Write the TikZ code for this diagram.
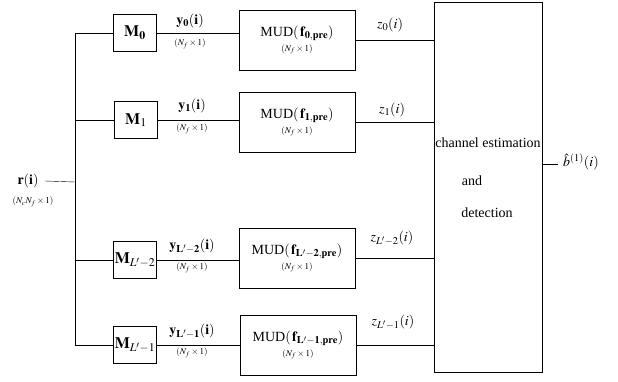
\documentclass[tikz,border=0pt]{standalone}
\usepackage{mathptmx}
\usepackage{fontspec}
\setmainfont{Liberation Serif}
\begin{document}
\begin{tikzpicture}[x=1pt,y=-1pt,
  blk/.style={draw,thick,minimum width=43pt,minimum height=37pt,inner sep=0pt,font=\fontsize{16}{18}\selectfont},
  mud/.style={draw,thick,minimum width=116pt,minimum height=60pt,inner sep=0pt,align=center},
  big/.style={font=\fontsize{14}{16}\selectfont},
  dim/.style={font=\fontsize{9}{10}\selectfont}]
  \useasboundingbox (0,0) rectangle (618,381);
  % bus
  \coordinate (top) at (75,33);
  \coordinate (bot) at (75,345);
  \coordinate (tap) at (75,182);
  \node[big] (r) at (28,181) {$\mathbf{r}(\mathbf{i})$};
  \node[dim] (rdim) at (33,202) {$(N_c N_f\times 1)$};
  \draw (r.east) ++(3,0) -- (tap);
  \draw (top) -- (bot);
  % M blocks
  \node[blk] (M0) at (135,33) {$\mathbf{M}_{\mathbf{0}}$};
  \node[blk] (M1) at (136,120) {$\mathbf{M}_{1}$};
  \node[blk] (M2) at (135,260) {$\mathbf{M}_{L'-2}$};
  \node[blk] (M3) at (135,345) {$\mathbf{M}_{L'-1}$};
  % MUD blocks
  \node[mud] (MUD0) at (297,40) {\fontsize{14}{16}\selectfont MUD$(\,\mathbf{f}_{\mathbf{0,pre}})$\\[3pt]\fontsize{9}{10}\selectfont$(N_f\times 1)$};
  \node[mud] (MUD1) at (297,122) {\fontsize{14}{16}\selectfont MUD$(\,\mathbf{f}_{\mathbf{1,pre}})$\\[3pt]\fontsize{9}{10}\selectfont$(N_f\times 1)$};
  \node[mud] (MUD2) at (297,258) {\fontsize{14}{16}\selectfont MUD$(\,\mathbf{f}_{\mathbf{L'-2,pre}})$\\[3pt]\fontsize{9}{10}\selectfont$(N_f\times 1)$};
  \node[mud] (MUD3) at (298,345) {\fontsize{14}{16}\selectfont MUD$(\,\mathbf{f}_{\mathbf{L'-1,pre}})$\\[3pt]\fontsize{9}{10}\selectfont$(N_f\times 1)$};
  % channel estimation and detection
  \node[draw,thick,minimum width=108pt,minimum height=370pt] (est) at (488,187) {};
  \node[big,inner sep=0pt] (t1) at (488,143) {channel estimation};
  \node[big] (t2) at (472,181) {and};
  \node[big] (t3) at (487,213) {detection};
  \coordinate (out) at (558,164);
  \draw (est.east |- out) -- (out);
  \node[big,anchor=west,inner sep=1pt] (bhat) at (562,162) {$\hat{b}^{(1)}(i)$};
  % connections
  \foreach \m in {0,1,2,3} {
    \draw (M\m.west -| top) -- (M\m.west);
    \draw (M\m.east) -- (M\m.east -| MUD\m.west);
    \draw (MUD\m.east) -- (MUD\m.east -| est.west);
  }
  % labels
  \node[big] (y0) at (190,21) {$\mathbf{y}_{\mathbf{0}}(\mathbf{i})$};
  \node[dim] (y0d) at (190,44) {$(N_f\times 1)$};
  \node[big] (y1) at (192,106) {$\mathbf{y}_{\mathbf{1}}(\mathbf{i})$};
  \node[dim] (y1d) at (192,129) {$(N_f\times 1)$};
  \node[big] (y2) at (192,246) {$\mathbf{y}_{\mathbf{L'-2}}(\mathbf{i})$};
  \node[dim] (y2d) at (192,268) {$(N_f\times 1)$};
  \node[big] (y3) at (192,331) {$\mathbf{y}_{\mathbf{L'-1}}(\mathbf{i})$};
  \node[dim] (y3d) at (192,353) {$(N_f\times 1)$};
  \node[big] (z0) at (390,25) {$z_0(i)$};
  \node[big] (z1) at (392,110) {$z_1(i)$};
  \node[big] (z2) at (392,238) {$z_{L'-2}(i)$};
  \node[big] (z3) at (393,322) {$z_{L'-1}(i)$};
\end{tikzpicture}
\end{document}
